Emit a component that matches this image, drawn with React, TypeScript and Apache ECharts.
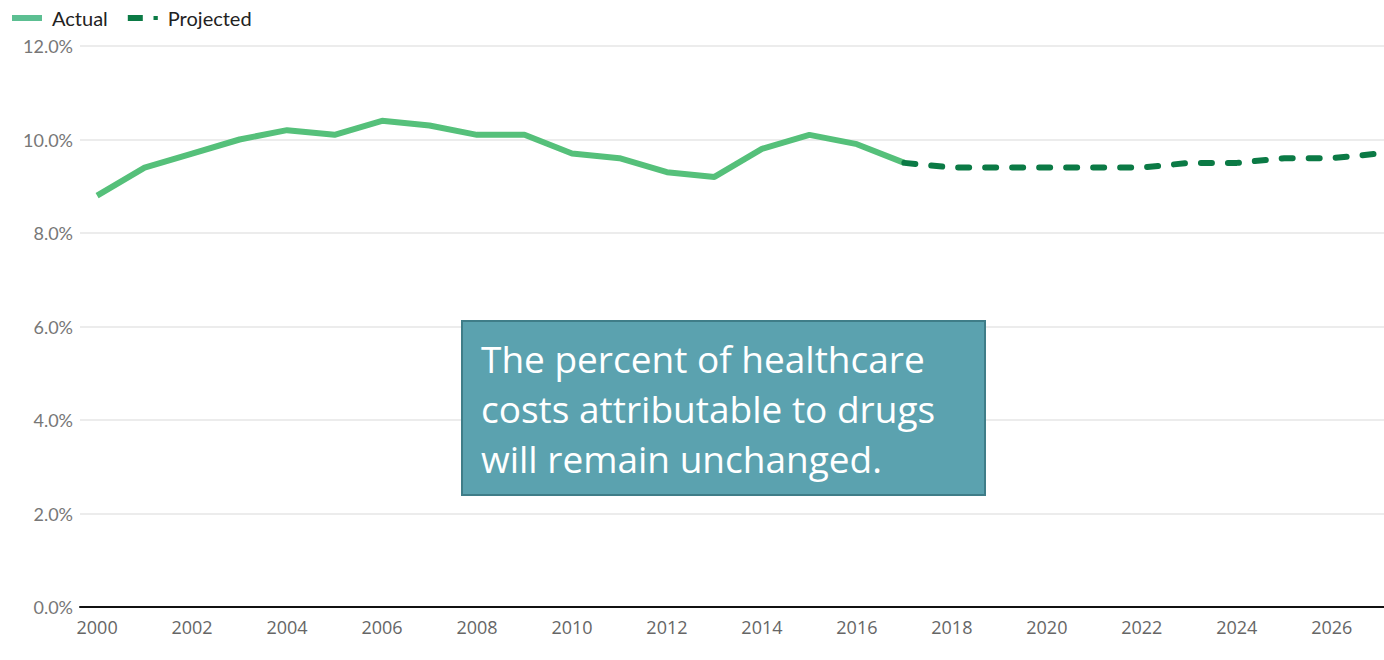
import React, { useEffect, useRef } from "react";
import * as echarts from "echarts";

const actualYears = [2000, 2001, 2002, 2003, 2004, 2005, 2006, 2007, 2008, 2009, 2010, 2011, 2012, 2013, 2014, 2015, 2016, 2017];
const actualValues = [8.8, 9.4, 9.7, 10.0, 10.2, 10.1, 10.4, 10.3, 10.1, 10.1, 9.7, 9.6, 9.3, 9.2, 9.8, 10.1, 9.9, 9.5];
const projectedYears = [2017, 2018, 2019, 2020, 2021, 2022, 2023, 2024, 2025, 2026, 2027];
const projectedValues = [9.5, 9.4, 9.4, 9.4, 9.4, 9.4, 9.5, 9.5, 9.6, 9.6, 9.7];
const yTicks = [0, 2, 4, 6, 8, 10, 12];
const noteLines = ["The percent of healthcare", "costs attributable to drugs", "will remain unchanged."];

export default function App() {
  const ref = useRef<HTMLDivElement>(null);
  useEffect(() => {
    if (!ref.current) return;
    const chart = echarts.init(ref.current, null, { renderer: "svg" });
    chart.setOption({
      animation: false,
      backgroundColor: "#ffffff",
      legend: {
        left: 7,
        top: 3,
        itemWidth: 30,
        itemHeight: 6,
        itemGap: 20,
        symbolKeepAspect: false,
        textStyle: { fontFamily: "Lato", fontSize: 20, color: "#222", padding: [0, 0, 0, 5] },
        data: [
          { name: "Actual", icon: "rect" },
          { name: "Projected", icon: "path://M0,0 H14 V6 H0 Z M24,1 H28 V5 H24 Z" },
        ],
      },
      grid: { left: 80, right: 0, top: 46, bottom: 53, containLabel: false },
      xAxis: {
        type: "value",
        min: 1999.64,
        max: 2027.1,
        minInterval: 2,
        maxInterval: 2,
        axisLine: { show: true, lineStyle: { color: "#111", width: 2 } },
        axisTick: { show: false },
        splitLine: { show: false },
        axisLabel: {
          showMinLabel: false,
          showMaxLabel: false,
          margin: 11,
          color: "#666",
          fontFamily: "Open Sans",
          fontSize: 18,
          formatter: (v: number) => (Number.isInteger(v) && v % 2 === 0 ? String(v) : ""),
        },
      },
      yAxis: {
        type: "value",
        min: yTicks[0],
        max: yTicks[yTicks.length - 1],
        interval: 2,
        axisLine: { show: false },
        axisTick: { show: false },
        splitLine: { show: true, lineStyle: { color: "#e6e6e6", width: 1.5 } },
        axisLabel: {
          margin: 7,
          color: "#777",
          fontFamily: "Lato",
          fontSize: 18,
          formatter: (v: number) => v.toFixed(1) + "%",
        },
      },
      series: [
        {
          name: "Actual",
          type: "line",
          symbol: "none",
          color: "#55c07a",
          itemStyle: { color: "#5cbf92" },
          lineStyle: { color: "#55c07a", width: 6 },
          data: actualYears.map((y, i) => [y, actualValues[i]]),
        },
        {
          name: "Projected",
          type: "line",
          symbol: "none",
          color: "#0b7a45",
          itemStyle: { color: "#0b7a45" },
          lineStyle: { color: "#0b7a45", width: 6, type: [11, 16], cap: "round" },
          data: projectedYears.map((y, i) => [y, projectedValues[i]]),
        },
      ],
      graphic: [
        {
          type: "rect",
          left: 461,
          top: 320,
          shape: { width: 523, height: 174 },
          style: { fill: "#5ba2af", stroke: "#3f7d88", lineWidth: 2 },
          z: 100,
        },
        {
          type: "text",
          left: 481,
          top: 333,
          z: 101,
          style: {
            text: noteLines.join("\n"),
            fill: "#ffffff",
            font: '37px "Open Sans"',
            lineHeight: 50,
          },
        },
      ],
    });
    return () => chart.dispose();
  }, []);
  return (
    <div
      ref={ref}
      style={{ position: "fixed", left: 0, top: 0, width: 1384, height: 660 }}
    />
  );
}
